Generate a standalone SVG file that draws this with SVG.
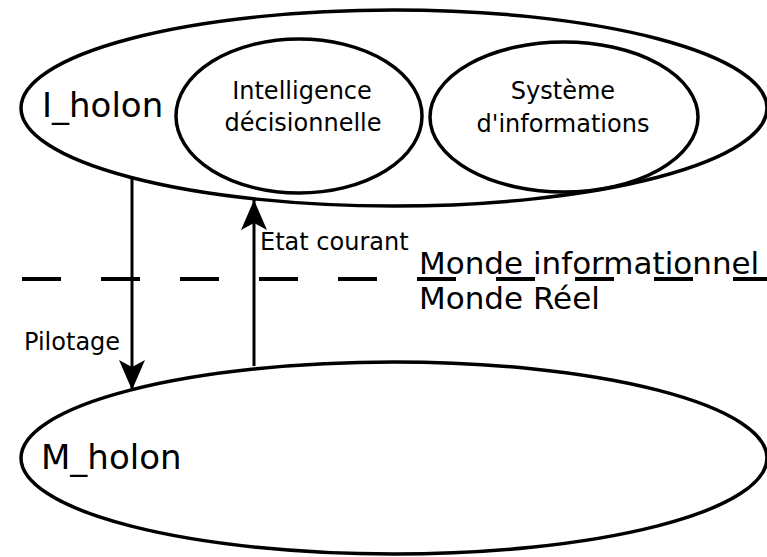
<svg xmlns="http://www.w3.org/2000/svg" width="767" height="557" viewBox="0 0 767 557">
  <style>
    .shape { fill: none; stroke: #000; stroke-width: 3.5; }
    .link { fill: none; stroke: #000; stroke-width: 3; }
    .sep { fill: none; stroke: #000; stroke-width: 4; stroke-dasharray: 39 40; }
    text { font-family: "DejaVu Sans", "Liberation Sans", sans-serif; fill: #000; }
    .big { font-size: 34px; }
    .mid { font-size: 24px; text-anchor: middle; }
    .lbl { font-size: 24px; }
    .world { font-size: 31px; }
  </style>
  <defs>
    <marker id="head" markerWidth="30" markerHeight="26" refX="30" refY="13" orient="auto" markerUnits="userSpaceOnUse" viewBox="0 0 30 26">
      <path d="M0,0 L30,13 L0,26 L7,13 Z" fill="#000"/>
    </marker>
  </defs>
  <rect width="767" height="557" fill="#fff"/>

  <!-- information world / real world boundary -->
  <g id="boundary">
    <line class="sep" x1="22" y1="279" x2="767" y2="279"/>
    <text class="world" x="419" y="274">Monde informationnel</text>
    <text class="world" x="419" y="309">Monde Réel</text>
  </g>

  <g id="i_holon">
    <ellipse class="shape" cx="394" cy="108" rx="373" ry="98"/>
    <text class="big" x="42" y="117">I_holon</text>
  </g>

  <g id="intelligence">
    <ellipse class="shape" cx="299" cy="116" rx="123" ry="77"/>
    <text class="mid" x="302" y="99">Intelligence</text>
    <text class="mid" x="303" y="131">décisionnelle</text>
  </g>

  <g id="systeme">
    <ellipse class="shape" cx="564" cy="117" rx="134" ry="75"/>
    <text class="mid" x="563" y="99">Système</text>
    <text class="mid" x="563" y="132">d'informations</text>
  </g>

  <g id="m_holon">
    <ellipse class="shape" cx="394" cy="458" rx="373" ry="96"/>
    <text class="big" x="41" y="469">M_holon</text>
  </g>

  <g id="connectors">
    <line class="link" x1="132" y1="179" x2="132" y2="390" marker-end="url(#head)"/>
    <text class="lbl" x="24" y="350">Pilotage</text>
    <line class="link" x1="254" y1="366" x2="254" y2="200" marker-end="url(#head)"/>
    <text class="lbl" x="260" y="250">Etat courant</text>
  </g>
</svg>
